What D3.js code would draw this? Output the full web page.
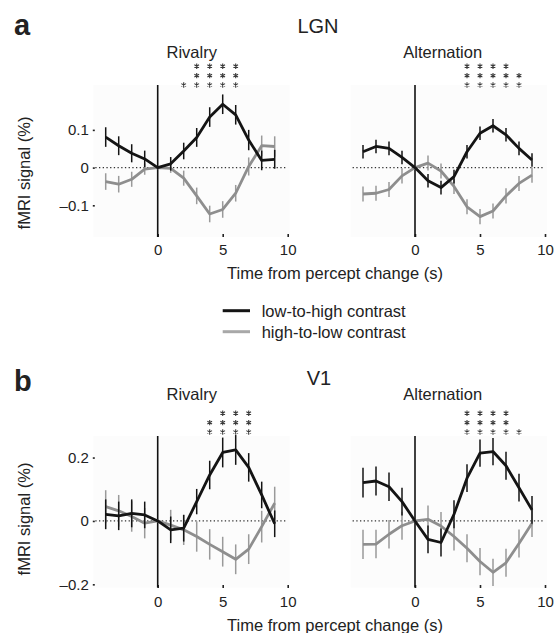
<!DOCTYPE html>
<html>
<head>
<meta charset="utf-8">
<script src="https://cdn.jsdelivr.net/npm/d3@7"></script>
<style>
  html, body { margin: 0; padding: 0; background: #fff; }
  svg { display: block; }
  text { font-family: "Liberation Sans", Arial, Helvetica, sans-serif; fill: #222; }
</style>
</head>
<body>
<svg id="chart" width="554" height="633"></svg>
<script>
// ---------------- DATA ----------------
const timePoints = [-4, -3, -2, -1, 0, 1, 2, 3, 4, 5, 6, 7, 8, 9];
const xTickValues = [0, 5, 10];
const lgnTickValues = [-0.1, 0, 0.1];
const v1TickValues = [-0.2, 0, 0.2];
const seriesNames = ["low-to-high contrast", "high-to-low contrast"];
const regionTitles = ["LGN", "V1"];
const panelLetters = ["a", "b"];
const conditionTitles = ["Rivalry", "Alternation"];

// LGN, rivalry
const lgnRivLowHigh = [0.081, 0.058, 0.038, 0.023, 0, 0.010, 0.044, 0.080, 0.134, 0.168, 0.140, 0.073, 0.019, 0.022];
const lgnRivLowHighErr = [0.026, 0.025, 0.024, 0.022, 0, 0.018, 0.022, 0.025, 0.026, 0.026, 0.026, 0.027, 0.026, 0.025];
const lgnRivHighLow = [-0.037, -0.044, -0.031, -0.004, 0, -0.002, -0.028, -0.075, -0.123, -0.111, -0.068, 0.003, 0.058, 0.056];
const lgnRivHighLowErr = [0.022, 0.022, 0.020, 0.015, 0, 0.012, 0.020, 0.022, 0.022, 0.022, 0.022, 0.024, 0.027, 0.027];
// LGN, alternation
const lgnAltLowHigh = [0.042, 0.056, 0.051, 0.027, 0, -0.035, -0.053, -0.024, 0.042, 0.091, 0.111, 0.087, 0.051, 0.020];
const lgnAltLowHighErr = [0.018, 0.018, 0.018, 0.018, 0, 0.018, 0.018, 0.018, 0.018, 0.018, 0.018, 0.018, 0.018, 0.018];
const lgnAltHighLow = [-0.070, -0.068, -0.058, -0.022, 0, 0.012, -0.009, -0.050, -0.104, -0.130, -0.115, -0.075, -0.042, -0.020];
const lgnAltHighLowErr = [0.020, 0.020, 0.020, 0.020, 0, 0.020, 0.020, 0.020, 0.020, 0.020, 0.020, 0.020, 0.020, 0.020];
// V1, rivalry
const v1RivLowHigh = [0.021, 0.016, 0.024, 0.019, 0, -0.028, -0.023, 0.061, 0.145, 0.216, 0.224, 0.169, 0.082, -0.009];
const v1RivLowHighErr = [0.047, 0.045, 0.044, 0.042, 0, 0.042, 0.042, 0.040, 0.045, 0.047, 0.047, 0.045, 0.042, 0.042];
const v1RivHighLow = [0.045, 0.032, 0.014, -0.007, 0, -0.013, -0.028, -0.049, -0.074, -0.097, -0.121, -0.089, -0.018, 0.056];
const v1RivHighLowErr = [0.052, 0.050, 0.048, 0.048, 0, 0.048, 0.048, 0.048, 0.048, 0.047, 0.047, 0.047, 0.050, 0.052];
// V1, alternation
const v1AltLowHigh = [0.121, 0.126, 0.108, 0.061, 0, -0.058, -0.068, 0.021, 0.135, 0.214, 0.219, 0.174, 0.105, 0.035];
const v1AltLowHighErr = [0.047, 0.046, 0.045, 0.044, 0, 0.044, 0.044, 0.044, 0.044, 0.043, 0.043, 0.044, 0.044, 0.044];
const v1AltHighLow = [-0.074, -0.073, -0.042, -0.015, 0, 0.005, -0.016, -0.049, -0.086, -0.128, -0.162, -0.132, -0.071, -0.007];
const v1AltHighLowErr = [0.046, 0.045, 0.045, 0.044, 0, 0.044, 0.044, 0.044, 0.044, 0.043, 0.043, 0.044, 0.044, 0.044];

// significance stars (time point, number of stars)
const lgnRivStarTimes = [2, 3, 4, 5, 6];
const lgnRivStarCounts = [1, 3, 3, 3, 3];
const lgnAltStarTimes = [4, 5, 6, 7, 8];
const lgnAltStarCounts = [3, 3, 3, 3, 2];
const v1RivStarTimes = [4, 5, 6, 7];
const v1RivStarCounts = [2, 3, 3, 3];
const v1AltStarTimes = [4, 5, 6, 7, 8];
const v1AltStarCounts = [3, 3, 3, 3, 1];

// ---------------- LAYOUT ----------------
const svg = d3.select("#chart");
const colors = { lowHigh: "#141414", highLow: "#8e8e8e", highLowBar: "#9a9a9a" };
const xDomain = [-4.8, 10];
const cols = [[95.3, 287.7], [352.6, 545]];
const rows = [
  { top: 85, bottom: 237, domain: [-0.184, 0.219], ticks: lgnTickValues, axisY: 234, tickLabelPad: 7, starBase: 85, titleY: 58, titleFont: 16.5 },
  { top: 436, bottom: 587.5, domain: [-0.21, 0.268], ticks: v1TickValues, axisY: 585, tickLabelPad: 8, starBase: 432, titleY: 400, titleFont: 16.5 }
];

const panels = [
  { row: 0, col: 0, lh: lgnRivLowHigh, lhE: lgnRivLowHighErr, hl: lgnRivHighLow, hlE: lgnRivHighLowErr, st: lgnRivStarTimes, sc: lgnRivStarCounts },
  { row: 0, col: 1, lh: lgnAltLowHigh, lhE: lgnAltLowHighErr, hl: lgnAltHighLow, hlE: lgnAltHighLowErr, st: lgnAltStarTimes, sc: lgnAltStarCounts },
  { row: 1, col: 0, lh: v1RivLowHigh, lhE: v1RivLowHighErr, hl: v1RivHighLow, hlE: v1RivHighLowErr, st: v1RivStarTimes, sc: v1RivStarCounts },
  { row: 1, col: 1, lh: v1AltLowHigh, lhE: v1AltLowHighErr, hl: v1AltHighLow, hlE: v1AltHighLowErr, st: v1AltStarTimes, sc: v1AltStarCounts }
];

const fmt = d => d === 0 ? "0" : (d < 0 ? "\u2013" + Math.abs(d) : String(d));
const asterisk = d3.symbol().type(d3.symbolAsterisk).size(20);

panels.forEach(p => {
  const R = rows[p.row];
  const x = d3.scaleLinear().domain(xDomain).range(cols[p.col]);
  const y = d3.scaleLinear().domain(R.domain).range([R.bottom, R.top]);
  const g = svg.append("g");

  // faint plot background
  g.append("rect")
    .attr("x", x.range()[0] - 2).attr("y", R.top)
    .attr("width", x.range()[1] - x.range()[0] + 4).attr("height", R.bottom - R.top)
    .attr("fill", "#fcfcfc");

  // dotted zero line
  g.append("line")
    .attr("x1", x(xDomain[0])).attr("x2", x(xDomain[1]))
    .attr("y1", y(0)).attr("y2", y(0))
    .attr("stroke", "#333").attr("stroke-width", 1.2)
    .attr("stroke-dasharray", "1.3,2.4");

  // x axis
  const xAxis = d3.axisBottom(x).tickValues(xTickValues).tickSize(3).tickPadding(R.tickLabelPad).tickFormat(d3.format("d"));
  const xa = g.append("g").attr("transform", `translate(0,${R.axisY})`).call(xAxis);
  xa.select(".domain").remove();
  xa.selectAll(".tick line").attr("stroke", "#222").attr("stroke-width", 1.6);
  xa.selectAll(".tick text").attr("font-size", 15).attr("fill", "#222")
    .style("font-family", "'Liberation Sans', Arial, sans-serif");

  // y axis (left panels only)
  if (p.col === 0) {
    const yAxis = d3.axisLeft(y).tickValues(R.ticks).tickSize(2).tickPadding(4).tickFormat(fmt);
    const ya = g.append("g").attr("transform", `translate(${x.range()[0] - 0.5},0)`).call(yAxis);
    ya.select(".domain").remove();
    ya.selectAll(".tick line").attr("stroke", "#222").attr("stroke-width", 1.6);
    ya.selectAll(".tick text").attr("font-size", 15).attr("fill", "#222")
      .style("font-family", "'Liberation Sans', Arial, sans-serif");
  }

  // vertical line at time 0
  g.append("line")
    .attr("x1", x(0)).attr("x2", x(0))
    .attr("y1", R.top).attr("y2", R.bottom)
    .attr("stroke", "#111").attr("stroke-width", 1.6);

  const line = d3.line().x((d, i) => x(timePoints[i])).y(d => y(d));

  const drawSeries = (vals, errs, col, barCol) => {
    const bars = g.append("g");
    timePoints.forEach((t, i) => {
      if (errs[i] > 0) {
        bars.append("line")
          .attr("x1", x(t)).attr("x2", x(t))
          .attr("y1", y(vals[i] - errs[i])).attr("y2", y(vals[i] + errs[i]))
          .attr("stroke", barCol).attr("stroke-width", 1.5);
      }
    });
    g.append("path").datum(vals)
      .attr("d", line).attr("fill", "none")
      .attr("stroke", col).attr("stroke-width", 2.8)
      .attr("stroke-linejoin", "round");
  };
  drawSeries(p.hl, p.hlE, colors.highLow, colors.highLowBar);
  drawSeries(p.lh, p.lhE, colors.lowHigh, colors.lowHigh);

  // stars
  p.st.forEach((t, i) => {
    for (let k = 0; k < p.sc[i]; k++) {
      g.append("path")
        .attr("d", asterisk)
        .attr("transform", `translate(${x(t)},${R.starBase - k * 9.4})`)
        .attr("fill", "none").attr("stroke", "#3a3a3a").attr("stroke-width", 1.1);
    }
  });

  // condition title
  g.append("text")
    .attr("x", p.col === 0 ? 191.7 : 442.7).attr("y", R.titleY)
    .attr("text-anchor", "middle").attr("font-size", R.titleFont)
    .text(conditionTitles[p.col]);
});

// panel letters and region titles
svg.append("text").attr("x", 14).attr("y", 35).attr("font-size", 29).attr("font-weight", "bold").attr("fill", "#111").text(panelLetters[0]);
svg.append("text").attr("x", 14).attr("y", 391).attr("font-size", 29).attr("font-weight", "bold").attr("fill", "#111").text(panelLetters[1]);
svg.append("text").attr("x", 318).attr("y", 33).attr("text-anchor", "middle").attr("font-size", 20).text(regionTitles[0]);
svg.append("text").attr("x", 319).attr("y", 385).attr("text-anchor", "middle").attr("font-size", 20).text(regionTitles[1]);

// axis titles
[173, 519].forEach(cy => {
  svg.append("text")
    .attr("transform", `translate(30,${cy}) rotate(-90)`)
    .attr("text-anchor", "middle").attr("font-size", 16.5)
    .text("fMRI signal (%)");
});
[279, 631].forEach(by => {
  svg.append("text")
    .attr("x", 335).attr("y", by)
    .attr("text-anchor", "middle").attr("font-size", 16.5)
    .text("Time from percept change (s)");
});

// legend
const legend = svg.append("g");
[colors.lowHigh, "#a8a8a8"].forEach((c, i) => {
  const ly = 310.7 + i * 21;
  legend.append("line").attr("x1", 222.7).attr("x2", 250).attr("y1", ly).attr("y2", ly)
    .attr("stroke", c).attr("stroke-width", 3);
  legend.append("text").attr("x", 261.7).attr("y", ly + 6).attr("font-size", 16.5).text(seriesNames[i]);
});
</script>
</body>
</html>
